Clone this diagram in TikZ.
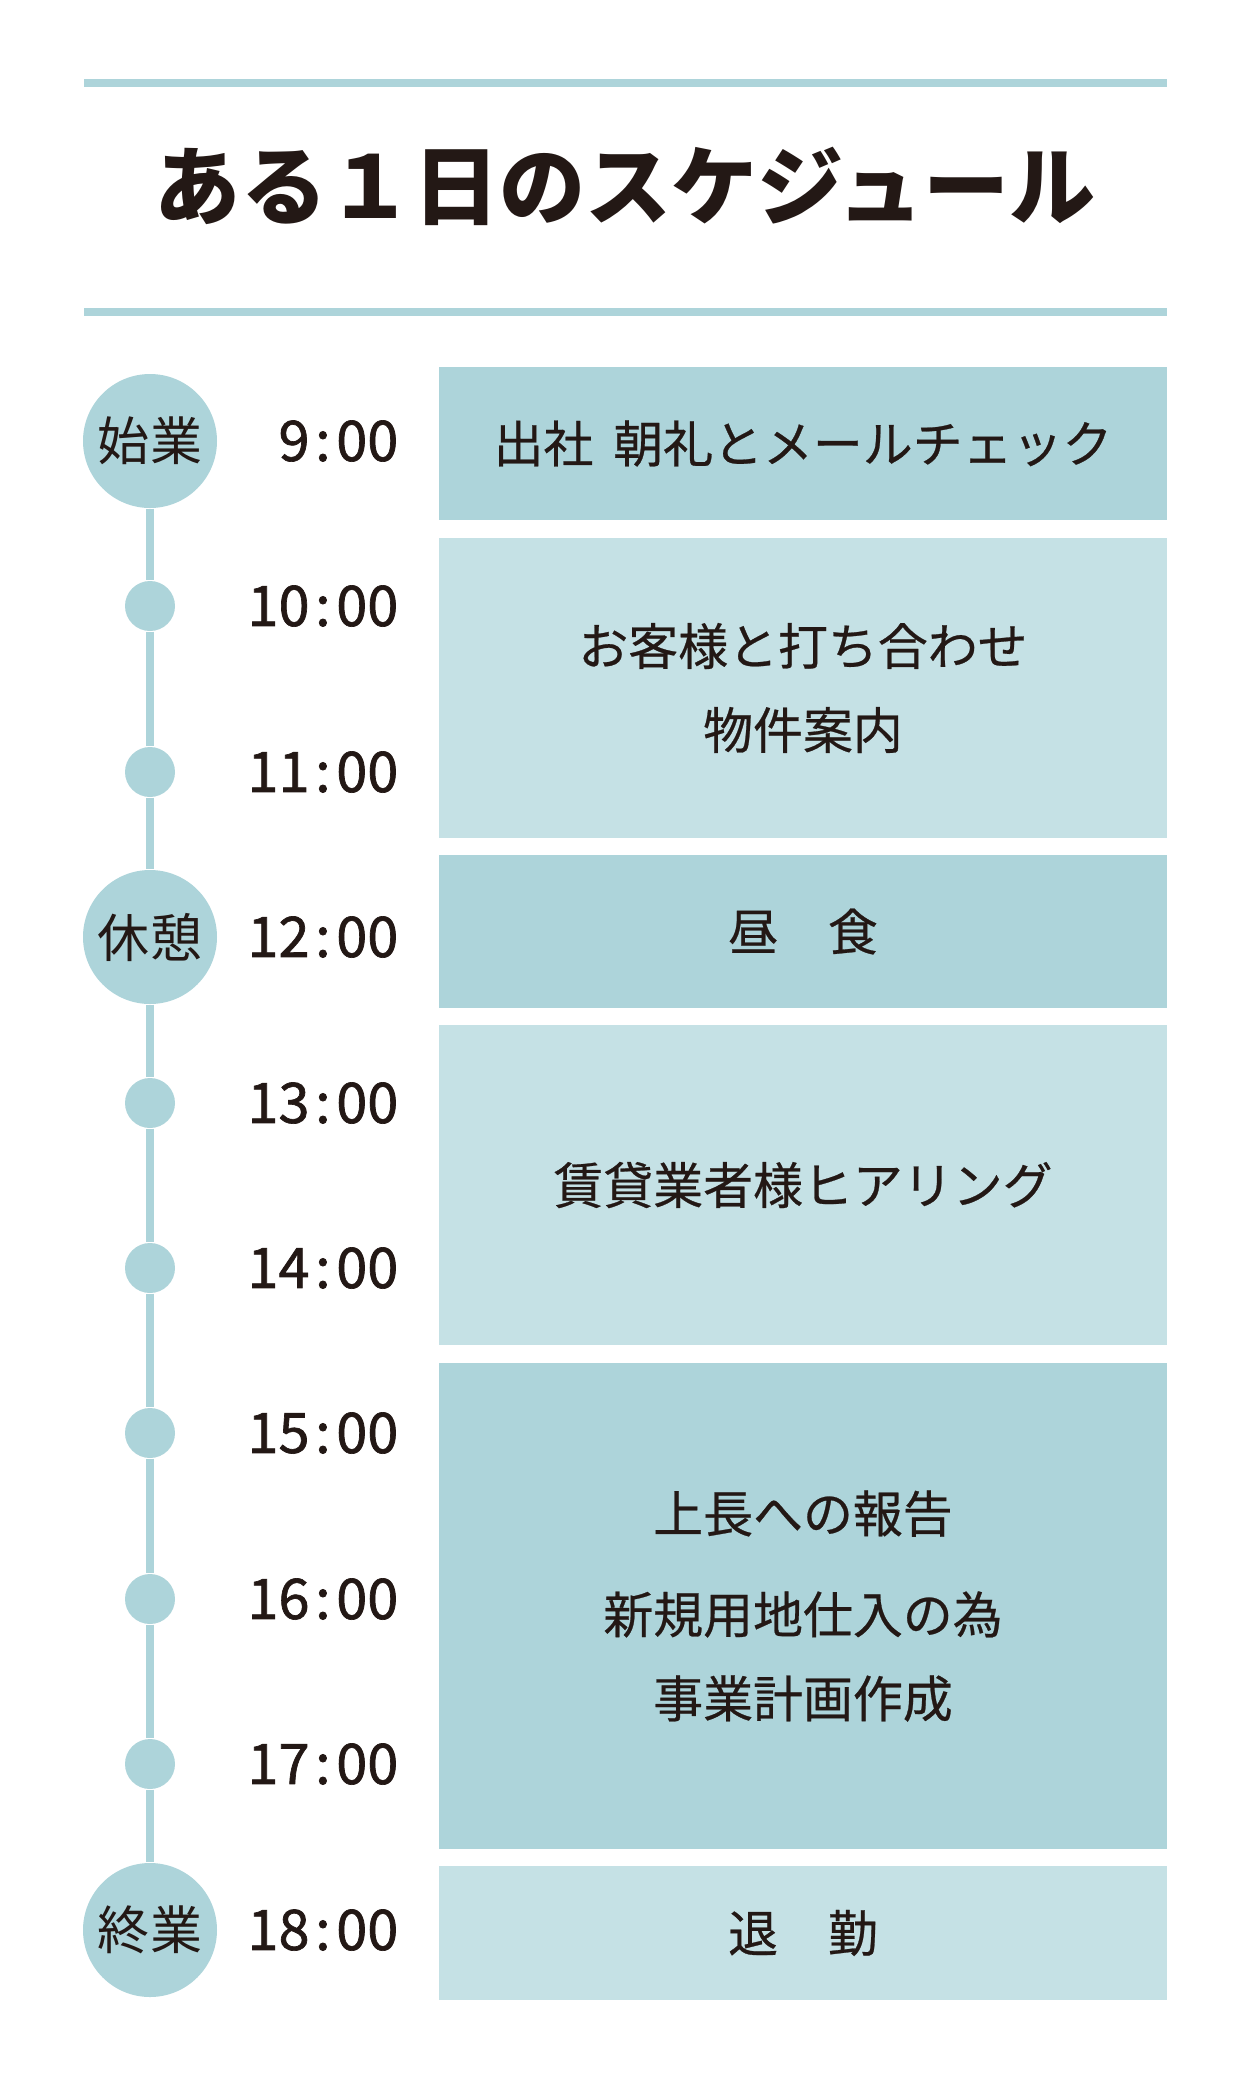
\documentclass[tikz,border=0pt]{standalone}
\usepackage{fontspec}
\setmainfont{Noto Sans CJK JP}
\newfontfamily\jpmid{Noto Sans CJK JP}[FakeBold=0.5]
\newfontfamily\jpdigit{Noto Sans CJK JP}[FakeBold=1.2]
\usetikzlibrary{positioning}
\definecolor{ink}{HTML}{231815}
\definecolor{skyteal}{HTML}{ADD4DA}
\definecolor{paleteal}{HTML}{C5E1E5}
\newcommand{\clock}[2]{#1\hspace{0.1em}:\hspace{0.1em}#2}

\begin{document}
\begin{tikzpicture}[
  x=0.1mm, y=-0.1mm,
  rule/.style={draw=skyteal, line width=0.8mm},
  heading/.style={inner sep=0, text=ink, font=\fontsize{24.5}{28}\selectfont\bfseries},
  bigdot/.style={circle, fill=skyteal, minimum size=13.4mm, inner sep=0, text=ink,
                 font=\fontsize{14.8}{16}\selectfont},
  smalldot/.style={circle, fill=skyteal, minimum size=5mm, inner sep=0},
  hour/.style={anchor=east, inner sep=0, text=ink, font=\jpdigit\fontsize{15.9}{18}\selectfont},
  task/.style={fill=skyteal, inner sep=0, minimum width=72.8mm, align=center, text=ink,
               font=\jpmid\fontsize{14.2}{23.9}\selectfont},
  paletask/.style={task, fill=paleteal},
  tline/.style={draw=skyteal, line width=0.8mm}
]
  \useasboundingbox[fill=white] (0,0) rectangle (1251,2084);

  % title between two rules
  \draw[rule] (84,83) -- (1167,83);
  \node[heading] (title) at (625.5,186) {ある１日のスケジュール};
  \draw[rule] (84,312) -- (1167,312);

  % timeline
  \node[bigdot] (t9) at (150,441) {始業};
  \node[smalldot] (t10) at (150,606) {};
  \node[smalldot] (t11) at (150,772) {};
  \node[bigdot] (t12) at (150,937) {休憩};
  \node[smalldot] (t13) at (150,1103) {};
  \node[smalldot] (t14) at (150,1268) {};
  \node[smalldot] (t15) at (150,1433) {};
  \node[smalldot] (t16) at (150,1599) {};
  \node[smalldot] (t17) at (150,1764) {};
  \node[bigdot] (t18) at (150,1930) {終業};

  \foreach \a/\b in {t9/t10,t10/t11,t11/t12,t12/t13,t13/t14,t14/t15,t15/t16,t16/t17,t17/t18}
    \draw[tline] (\a) -- (\b);

  \node[hour] (h9) at (399,441) {\clock{9}{00}};
  \node[hour] (h10) at (399,606) {\clock{10}{00}};
  \node[hour] (h11) at (399,772) {\clock{11}{00}};
  \node[hour] (h12) at (399,937) {\clock{12}{00}};
  \node[hour] (h13) at (399,1103) {\clock{13}{00}};
  \node[hour] (h14) at (399,1268) {\clock{14}{00}};
  \node[hour] (h15) at (399,1433) {\clock{15}{00}};
  \node[hour] (h16) at (399,1599) {\clock{16}{00}};
  \node[hour] (h17) at (399,1764) {\clock{17}{00}};
  \node[hour] (h18) at (399,1930) {\clock{18}{00}};

  % tasks
  \node[task, minimum height=15.3mm] (morning) at (803,443.5)
    {出社\hspace{0.4em}朝礼とメールチェック};
  \node[paletask, minimum height=30mm] (client) at (803,688)
    {お客様と打ち合わせ\\物件案内};
  \node[task, minimum height=15.3mm] (lunch) at (803,931.5) {昼　食};
  \node[paletask, minimum height=32mm] (hearing) at (803,1185)
    {賃貸業者様ヒアリング};
  \node[task, minimum height=48.6mm] (report) at (803,1606)
    {上長への報告\\[1.7mm]新規用地仕入の為\\事業計画作成};
  \node[paletask, minimum height=13.4mm] (leave) at (803,1933) {退　勤};
\end{tikzpicture}
\end{document}
